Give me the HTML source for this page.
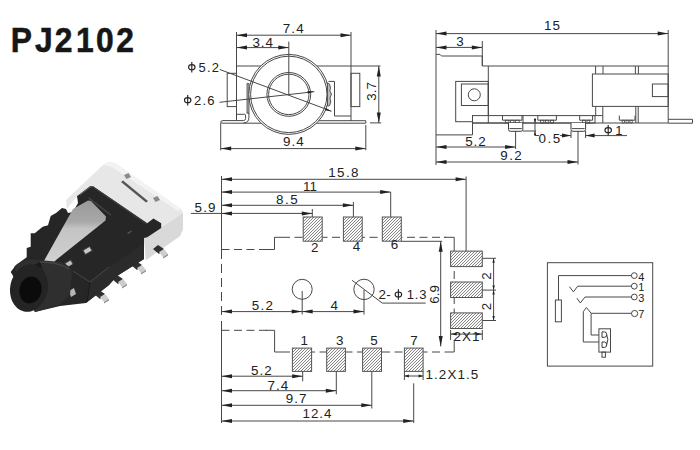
<!DOCTYPE html>
<html><head><meta charset="utf-8"><style>
html,body{margin:0;padding:0;background:#fff;}
svg{display:block;font-family:"Liberation Sans",sans-serif;}
</style></head><body>
<svg width="700" height="450" viewBox="0 0 700 450">
<defs>
<pattern id="hatch" patternUnits="userSpaceOnUse" width="3" height="3">
<rect width="3" height="3" fill="#fbfbfb"/><path d="M-1,1 L1,-1 M0,3 L3,0 M2,4 L4,2" stroke="#555" stroke-width="0.72"/>
</pattern>
<linearGradient id="strip" x1="0" y1="0" x2="0" y2="1">
<stop offset="0" stop-color="#999"/><stop offset="0.3" stop-color="#a8a8a8"/><stop offset="0.4" stop-color="#c4c4c4"/><stop offset="1" stop-color="#d4d4d4"/>
</linearGradient>
</defs>
<text transform="scale(0.93,1)" x="11.58 37.55 58.91 81.61 103.36 125.04" y="51.6" font-size="34.2" font-weight="bold" fill="#161616" stroke="#161616" stroke-width="0.55">PJ2102</text>
<line x1="236.5" y1="32" x2="236.5" y2="66.5" stroke="#484848" stroke-width="1" />
<line x1="351" y1="32" x2="351" y2="121" stroke="#484848" stroke-width="1" />
<line x1="236.5" y1="35.2" x2="351" y2="35.2" stroke="#484848" stroke-width="1" />
<polygon points="236.5,35.2 247,33.2 247,37.2" fill="#222"/>
<polygon points="351,35.2 340.5,37.2 340.5,33.2" fill="#222"/>
<text x="282.72" y="33" font-size="13.4" fill="#222" letter-spacing="1.13">7.4</text>
<line x1="288.8" y1="41.6" x2="288.8" y2="94.4" stroke="#484848" stroke-width="1" />
<line x1="236.5" y1="47.6" x2="288.8" y2="47.6" stroke="#484848" stroke-width="1" />
<polygon points="236.5,47.6 247,45.6 247,49.6" fill="#222"/>
<polygon points="288.8,47.6 278.3,49.6 278.3,45.6" fill="#222"/>
<text x="252.39" y="46.7" font-size="13.4" fill="#222" letter-spacing="0.99">3.4</text>
<line x1="236.5" y1="66" x2="380.5" y2="66" stroke="#484848" stroke-width="1" />
<line x1="236.5" y1="66" x2="236.5" y2="120.7" stroke="#484848" stroke-width="1" />
<rect x="227.2" y="73.3" width="9.3" height="33.3" fill="none" stroke="#484848" stroke-width="1" />
<rect x="351" y="73.3" width="8.8" height="33.3" fill="none" stroke="#484848" stroke-width="1" />
<rect x="247.1" y="83.7" width="1.8" height="29.4" fill="#e0e0e0" stroke="#484848" stroke-width="1" />
<path d="M236.7,114.3 H244.6 Q245.6,114.3 245.6,116 V118.5 Q245.6,120.4 243.6,120.6" fill="none" stroke="#484848" stroke-width="1"/>
<path d="M248.9,113.1 V117.5 Q248.9,122.9 243.5,122.9" fill="none" stroke="#484848" stroke-width="1"/>
<polyline points="328.5,81.4 334.5,81.4 334.5,116 351,116" fill="none" stroke="#484848" stroke-width="1" />
<path d="M243.6,120.6 H223 Q220.7,120.7 220.7,122 Q220.7,123.2 223,123.2 H365.8 V120.7 H318" fill="none" stroke="#484848" stroke-width="1"/>
<circle cx="288.8" cy="94.4" r="40" fill="#fff" stroke="#484848" stroke-width="1"/>
<circle cx="288.8" cy="94.4" r="38.2" fill="none" stroke="#484848" stroke-width="1"/>
<circle cx="288.8" cy="94.4" r="21.9" fill="none" stroke="#484848" stroke-width="1"/>
<circle cx="288.8" cy="94.4" r="20.2" fill="none" stroke="#484848" stroke-width="1"/>
<line x1="288.8" y1="54.4" x2="288.8" y2="94.4" stroke="#484848" stroke-width="1" />
<polygon points="327.5,82.7 329.5,84 330.5,88 329.8,91 331.5,94 330,98 330.8,102 329.5,105.8 327.5,106" fill="#bbb" stroke="#484848" stroke-width="0.9" />
<line x1="219.8" y1="69.5" x2="331.5" y2="111.2" stroke="#484848" stroke-width="1" />
<polygon points="331.5,111.4 324.96,110.33 325.87,107.9" fill="#222"/>
<line x1="219.5" y1="102.3" x2="314.3" y2="91.7" stroke="#484848" stroke-width="1" />
<polygon points="314.1,91.6 307.79,93.62 307.5,91.04" fill="#222"/>
<ellipse cx="191.8" cy="67.2" rx="3.25" ry="2.55" fill="none" stroke="#222" stroke-width="1.1"/>
<line x1="191.8" y1="62" x2="191.8" y2="72.5" stroke="#222" stroke-width="1.15"/>
<text x="198.48" y="71.6" font-size="13" fill="#222" letter-spacing="1.26">5.2</text>
<ellipse cx="187.7" cy="100.2" rx="3.25" ry="2.55" fill="none" stroke="#222" stroke-width="1.1"/>
<line x1="187.7" y1="95" x2="187.7" y2="105.5" stroke="#222" stroke-width="1.15"/>
<text x="193.95" y="104.6" font-size="13" fill="#222" letter-spacing="1.23">2.6</text>
<line x1="220.7" y1="123" x2="220.7" y2="150.3" stroke="#484848" stroke-width="1" />
<line x1="365.8" y1="125" x2="365.8" y2="150.3" stroke="#484848" stroke-width="1" />
<line x1="220.7" y1="148.6" x2="365.8" y2="148.6" stroke="#484848" stroke-width="1" />
<polygon points="220.7,148.6 231.2,146.6 231.2,150.6" fill="#222"/>
<polygon points="365.8,148.6 355.3,150.6 355.3,146.6" fill="#222"/>
<text x="282.97" y="145.7" font-size="13.4" fill="#222" letter-spacing="1">9.4</text>
<line x1="370" y1="122.9" x2="381.2" y2="122.9" stroke="#484848" stroke-width="1" />
<line x1="378.8" y1="66" x2="378.8" y2="122.9" stroke="#484848" stroke-width="1" />
<polygon points="378.8,66 380.8,76.5 376.8,76.5" fill="#222"/>
<polygon points="378.8,122.9 376.8,112.4 380.8,112.4" fill="#222"/>
<text x="0" y="0" font-size="13.4" fill="#222" letter-spacing="0.08" transform="translate(376.4,100.71) rotate(-90)">3.7</text>
<line x1="436" y1="30" x2="436" y2="165" stroke="#484848" stroke-width="1" />
<line x1="668.2" y1="30" x2="668.2" y2="123" stroke="#484848" stroke-width="1" />
<line x1="436" y1="33.6" x2="668.2" y2="33.6" stroke="#484848" stroke-width="1" />
<polygon points="436,33.6 446.5,31.6 446.5,35.6" fill="#222"/>
<polygon points="668.2,33.6 657.7,35.6 657.7,31.6" fill="#222"/>
<text x="543.98" y="29.8" font-size="13.4" fill="#222" letter-spacing="0.99">15</text>
<line x1="436" y1="47.4" x2="482.3" y2="47.4" stroke="#484848" stroke-width="1" />
<polygon points="436,47.4 446.5,45.4 446.5,49.4" fill="#222"/>
<polygon points="482.3,47.4 471.8,49.4 471.8,45.4" fill="#222"/>
<line x1="482.3" y1="41" x2="482.3" y2="66" stroke="#484848" stroke-width="1" />
<text x="456.29" y="46.4" font-size="13.4" fill="#222" letter-spacing="0">3</text>
<polyline points="436,54.4 440,54.4 441.5,56 482.3,56 482.3,66 668.2,66" fill="none" stroke="#484848" stroke-width="1" />
<rect x="455.7" y="81.4" width="32.6" height="40.3" fill="none" stroke="#484848" stroke-width="1" />
<rect x="461.4" y="84" width="26.9" height="21.5" fill="none" stroke="#484848" stroke-width="1" />
<circle cx="474.3" cy="94.8" r="6" fill="none" stroke="#484848" stroke-width="1"/>
<rect x="472.5" y="115.6" width="122.5" height="7.4" fill="#fff" stroke="#484848" stroke-width="1" />
<line x1="488.3" y1="66" x2="488.3" y2="123" stroke="#484848" stroke-width="1" />
<line x1="472.5" y1="123" x2="668.2" y2="123" stroke="#484848" stroke-width="1" />
<line x1="472.5" y1="115.6" x2="472.5" y2="134.9" stroke="#484848" stroke-width="1" />
<line x1="436" y1="134.9" x2="472.5" y2="134.9" stroke="#484848" stroke-width="1" />
<rect x="592.4" y="74" width="75.8" height="32.4" fill="none" stroke="#484848" stroke-width="1" />
<rect x="652.4" y="84" width="15.8" height="12.6" fill="none" stroke="#484848" stroke-width="1" />
<line x1="595.6" y1="66" x2="595.6" y2="74" stroke="#484848" stroke-width="1" />
<line x1="603" y1="66" x2="603" y2="74" stroke="#484848" stroke-width="1" />
<line x1="635.4" y1="66" x2="635.4" y2="74" stroke="#484848" stroke-width="1" />
<line x1="638.4" y1="66" x2="638.4" y2="74" stroke="#484848" stroke-width="1" />
<line x1="595.7" y1="106.4" x2="595.7" y2="115.6" stroke="#484848" stroke-width="1" />
<line x1="602.8" y1="106.4" x2="602.8" y2="123" stroke="#484848" stroke-width="1" />
<line x1="635.8" y1="106.4" x2="635.8" y2="123" stroke="#484848" stroke-width="1" />
<line x1="638.2" y1="106.4" x2="638.2" y2="123" stroke="#484848" stroke-width="1" />
<line x1="592.6" y1="115.6" x2="602.8" y2="115.6" stroke="#484848" stroke-width="1" />
<polyline points="668.2,119.3 692.5,119.3 692.5,123.2 668.2,123.2" fill="none" stroke="#484848" stroke-width="1" />
<polyline points="502.5,115.6 502.5,120.2 522,120.2 522,115.6" fill="none" stroke="#484848" stroke-width="1" />
<rect x="505.3" y="120.2" width="3.57" height="2.8" fill="none" stroke="#484848" stroke-width="0.8" />
<rect x="510.47" y="120.2" width="3.57" height="2.8" fill="none" stroke="#484848" stroke-width="0.8" />
<rect x="515.63" y="120.2" width="3.57" height="2.8" fill="none" stroke="#484848" stroke-width="0.8" />
<polyline points="537.8,115.6 537.8,120.2 556.4,120.2 556.4,115.6" fill="none" stroke="#484848" stroke-width="1" />
<rect x="540.6" y="120.2" width="3.27" height="2.8" fill="none" stroke="#484848" stroke-width="0.8" />
<rect x="545.47" y="120.2" width="3.27" height="2.8" fill="none" stroke="#484848" stroke-width="0.8" />
<rect x="550.33" y="120.2" width="3.27" height="2.8" fill="none" stroke="#484848" stroke-width="0.8" />
<polyline points="579.7,115.6 579.7,120.2 592.6,120.2 592.6,115.6" fill="none" stroke="#484848" stroke-width="1" />
<rect x="582.5" y="120.2" width="2.85" height="2.8" fill="none" stroke="#484848" stroke-width="0.8" />
<rect x="586.95" y="120.2" width="2.85" height="2.8" fill="none" stroke="#484848" stroke-width="0.8" />
<polyline points="619.3,115.6 619.3,120.2 635,120.2 635,115.6" fill="none" stroke="#484848" stroke-width="1" />
<rect x="622.1" y="120.2" width="2.3" height="2.8" fill="none" stroke="#484848" stroke-width="0.8" />
<rect x="626" y="120.2" width="2.3" height="2.8" fill="none" stroke="#484848" stroke-width="0.8" />
<rect x="629.9" y="120.2" width="2.3" height="2.8" fill="none" stroke="#484848" stroke-width="0.8" />
<line x1="523" y1="115.6" x2="523" y2="123" stroke="#484848" stroke-width="1" />
<path d="M508.5,123 V129.5 Q508.5,131.3 510.5,131.3 H520.8 Q522.8,131.3 522.8,129.5 V123" fill="#fff" stroke="#3a3a3a" stroke-width="1"/>
<line x1="509.5" y1="128.6" x2="521.8" y2="128.6" stroke="#484848" stroke-width="1" />
<path d="M571,123 V129.5 Q571,131.3 573,131.3 H583.6 Q585.6,131.3 585.6,129.5 V123" fill="#fff" stroke="#3a3a3a" stroke-width="1"/>
<line x1="572" y1="128.6" x2="584.6" y2="128.6" stroke="#484848" stroke-width="1" />
<line x1="515.6" y1="131" x2="515.6" y2="149" stroke="#484848" stroke-width="1" />
<line x1="436" y1="147" x2="515.6" y2="147" stroke="#484848" stroke-width="1" />
<polygon points="436,147 446.5,145 446.5,149" fill="#222"/>
<polygon points="515.6,147 505.1,149 505.1,145" fill="#222"/>
<text x="465.16" y="145.6" font-size="13.4" fill="#222" letter-spacing="0.95">5.2</text>
<line x1="578" y1="131" x2="578" y2="164.5" stroke="#484848" stroke-width="1" />
<line x1="436" y1="162" x2="578" y2="162" stroke="#484848" stroke-width="1" />
<polygon points="436,162 446.5,160 446.5,164" fill="#222"/>
<polygon points="578,162 567.5,164 567.5,160" fill="#222"/>
<text x="500.37" y="159.6" font-size="13.4" fill="#222" letter-spacing="1.34">9.2</text>
<line x1="523" y1="131" x2="536" y2="131" stroke="#484848" stroke-width="1" />
<line x1="535" y1="118" x2="535" y2="135.5" stroke="#484848" stroke-width="1" />
<polygon points="535,123 533.8,119 536.2,119" fill="#222"/>
<polygon points="535,131.3 536.2,135.3 533.8,135.3" fill="#222"/>
<line x1="535" y1="135.5" x2="539" y2="135.5" stroke="#484848" stroke-width="1" />
<text x="538.48" y="143" font-size="13.4" fill="#222" letter-spacing="1.54">0.5</text>
<line x1="560" y1="135.6" x2="571" y2="135.6" stroke="#484848" stroke-width="1" />
<polygon points="571,135.6 562,137.6 562,133.6" fill="#222"/>
<line x1="571" y1="131" x2="571" y2="138" stroke="#484848" stroke-width="1" />
<line x1="585.6" y1="131" x2="585.6" y2="138" stroke="#484848" stroke-width="1" />
<line x1="585.6" y1="135.6" x2="627" y2="135.6" stroke="#484848" stroke-width="1" />
<polygon points="585.6,135.6 594.6,133.6 594.6,137.6" fill="#222"/>
<ellipse cx="608.2" cy="130.2" rx="3.25" ry="2.55" fill="none" stroke="#222" stroke-width="1.1"/>
<line x1="608.2" y1="125" x2="608.2" y2="135.5" stroke="#222" stroke-width="1.15"/>
<text x="615.21" y="134.6" font-size="13" fill="#222" letter-spacing="0">1</text>
<polygon points="67.0,209.0 66.0,200.0 103.0,165.0 108.0,162.0 115.0,163.0 181.0,209.0 183.0,213.0 183.0,229.0 180.0,236.0 146.0,260.0 144.0,238.0 90.0,186.0 77.0,196.0" fill="#e7e7e7" />
<polygon points="144.0,238.0 161.0,228.0 183.0,213.0 183.0,229.0 180.0,236.0 146.0,260.0" fill="#d9d9d9" />
<polygon points="103.0,165.0 108.0,162.0 115.0,163.0 181.0,209.0 178.0,211.0 112.0,167.0" fill="#f3f3f3" />
<polygon points="121.0,182.0 123.0,180.5 148.0,201.0 146.0,202.5" fill="#555" />
<polygon points="124.0,175.0 128.5,173.0 131.0,177.0 126.5,179.0" fill="#8a8a8a" />
<polygon points="153.0,198.0 157.5,196.0 160.0,200.0 155.5,202.0" fill="#8a8a8a" />
<polygon points="153.0,249.0 158.0,245.0 164.0,249.0 159.0,254.0" fill="#303030" />
<polygon points="159.0,252.0 164.0,249.0 168.0,254.0 163.0,257.0" fill="#cdcdcd" />
<polygon points="163.0,257.0 168.0,254.0 168.0,255.5 163.0,258.5" fill="#8c8c8c" />
<polygon points="131.0,265.0 136.0,261.0 142.0,265.0 137.0,270.0" fill="#303030" />
<polygon points="137.0,268.0 142.0,265.0 146.0,270.0 141.0,273.0" fill="#cdcdcd" />
<polygon points="141.0,273.0 146.0,270.0 146.0,271.5 141.0,274.5" fill="#8c8c8c" />
<polygon points="112.0,279.0 117.0,275.0 123.0,279.0 118.0,284.0" fill="#303030" />
<polygon points="118.0,282.0 123.0,279.0 127.0,284.0 122.0,287.0" fill="#cdcdcd" />
<polygon points="122.0,287.0 127.0,284.0 127.0,285.5 122.0,288.5" fill="#8c8c8c" />
<polygon points="94.0,294.0 99.0,290.0 105.0,294.0 100.0,299.0" fill="#303030" />
<polygon points="100.0,297.0 105.0,294.0 109.0,299.0 104.0,302.0" fill="#cdcdcd" />
<polygon points="104.0,302.0 109.0,299.0 109.0,300.5 104.0,303.5" fill="#8c8c8c" />
<polygon points="26.7,257.3 26.7,248.0 30.7,246.7 30.7,233.3 34.7,233.3 42.7,226.7 48.0,225.3 50.7,216.0 56.0,213.0 62.0,208.0 66.0,209.0 68.0,213.0 73.0,212.0 78.0,203.0 77.0,196.0 79.0,194.7 90.4,185.9 93.0,186.2 147.2,223.2 153.4,218.5 161.2,223.2 161.2,227.9 147.2,237.2 144.0,238.0 144.0,259.0 117.0,276.0 109.0,285.0 86.0,303.0 60.0,306.0 35.0,312.0 10.7,272.0 16.0,265.0" fill="#262626" />
<polygon points="90.0,282.0 109.0,267.0 117.0,262.0 143.0,244.0 144.0,259.0 117.0,276.0 109.0,285.0 86.0,303.0" fill="#2b2b2b" />
<polyline points="73,271 90,282 109,267" fill="none" stroke="#484848" stroke-width="1"/>
<polyline points="90,282 87,302" fill="none" stroke="#1a1a1a" stroke-width="1"/>
<polygon points="79.0,194.7 90.4,185.9 93.0,186.2 92.5,187.5 90.8,187.3 80.0,195.5" fill="#555" />
<polygon points="88.1,198.3 89.1,197.3 111.4,214.4 110.4,215.4" fill="#444" />
<polygon points="127.0,233.3 131.0,230.5 132.0,231.5 128.0,234.3" fill="#555" />
<polygon points="93.0,186.2 147.2,223.2 146.5,224.5 92.5,187.5" fill="#3a3a3a" />
<polygon points="73,209 88,200.5 91,201 106,216.5 105.5,220.5 56,260 47,270 41,271 40,268" fill="url(#strip)"/>
<polygon points="82.0,250.0 90.0,245.5 93.0,251.0 85.0,255.5" fill="#3a3a3a" />
<polygon points="83.5,250.5 89.5,247.0 91.5,250.5 85.5,254.0" fill="#c8c8c8" />
<polygon points="64.0,263.0 71.0,259.0 74.0,264.0 67.0,268.0" fill="#3a3a3a" />
<polygon points="65.5,263.5 70.5,260.5 72.5,264.0 67.5,267.0" fill="#bdbdbd" />
<polygon points="42.0,274.0 47.0,271.0 49.0,275.0 44.0,278.0" fill="#a8a8a8" />
<polygon points="69.0,291.0 74.0,288.0 76.0,294.0 71.0,297.0" fill="#b5b5b5" />
<path d="M14,267 Q22,259 34,259.5 L60,262 Q70,265 72,271 L70,295 L59,305 L35,312 Z" fill="#2f2f2f"/>
<path d="M40,262 Q58,262 69,269" stroke="#444" stroke-width="1.5" fill="none"/>
<polygon points="34.0,265.0 40.0,262.0 43.0,270.0 37.0,274.0" fill="#1a1a1a" />
<polygon points="37.0,270.0 41.0,268.0 43.0,272.0 39.0,274.0" fill="#aaa" />
<ellipse cx="29" cy="288" rx="18.8" ry="24" transform="rotate(12 29 288)" fill="#242424"/>
<ellipse cx="30.5" cy="290" rx="11" ry="13.5" transform="rotate(12 30.5 290)" fill="#0b0b0b"/>
<line x1="221.5" y1="176" x2="221.5" y2="250" stroke="#484848" stroke-width="1" />
<line x1="221.5" y1="250" x2="221.5" y2="318" stroke="#484848" stroke-width="1" stroke-dasharray="9,5"/>
<line x1="221.5" y1="321" x2="221.5" y2="423" stroke="#484848" stroke-width="1" />
<line x1="466.1" y1="176.5" x2="466.1" y2="251.1" stroke="#484848" stroke-width="1" />
<line x1="221.5" y1="179.3" x2="466.1" y2="179.3" stroke="#484848" stroke-width="1" />
<polygon points="221.5,179.3 232,177.3 232,181.3" fill="#222"/>
<polygon points="466.1,179.3 455.6,181.3 455.6,177.3" fill="#222"/>
<text x="328.28" y="176.9" font-size="13.4" fill="#222" letter-spacing="1.38">15.8</text>
<line x1="221.5" y1="192.1" x2="390.7" y2="192.1" stroke="#484848" stroke-width="1" />
<polygon points="221.5,192.1 232,190.1 232,194.1" fill="#222"/>
<polygon points="390.7,192.1 380.2,194.1 380.2,190.1" fill="#222"/>
<text x="302.88" y="190.7" font-size="13.4" fill="#222" letter-spacing="0.28">11</text>
<line x1="221.5" y1="205.3" x2="353.4" y2="205.3" stroke="#484848" stroke-width="1" />
<polygon points="221.5,205.3 232,203.3 232,207.3" fill="#222"/>
<polygon points="353.4,205.3 342.9,207.3 342.9,203.3" fill="#222"/>
<text x="276.02" y="203.6" font-size="13.4" fill="#222" letter-spacing="1.56">8.5</text>
<line x1="190.9" y1="213.4" x2="312.3" y2="213.4" stroke="#484848" stroke-width="1" />
<polygon points="221.5,213.4 232,211.4 232,215.4" fill="#222"/>
<polygon points="312.3,213.4 301.8,215.4 301.8,211.4" fill="#222"/>
<text x="194.56" y="211.8" font-size="13.4" fill="#222" letter-spacing="1.18">5.9</text>
<line x1="312.3" y1="209" x2="312.3" y2="217" stroke="#484848" stroke-width="1" />
<line x1="353.4" y1="202" x2="353.4" y2="217" stroke="#484848" stroke-width="1" />
<line x1="390.7" y1="192.1" x2="390.7" y2="217" stroke="#484848" stroke-width="1" />
<line x1="221.5" y1="249.5" x2="270" y2="249.5" stroke="#484848" stroke-width="1" stroke-dasharray="8,4.5"/>
<polyline points="266,249.5 274.5,249.5 274.5,237.3 282,237.3" fill="none" stroke="#484848" stroke-width="1" />
<line x1="282" y1="237.3" x2="446" y2="237.3" stroke="#484848" stroke-width="1" stroke-dasharray="8,4.5"/>
<polyline points="444,237.3 454.2,237.3 454.2,246" fill="none" stroke="#484848" stroke-width="1" />
<line x1="454.2" y1="246" x2="454.2" y2="334" stroke="#484848" stroke-width="1" stroke-dasharray="8,4.5"/>
<line x1="221.5" y1="330.3" x2="268" y2="330.3" stroke="#484848" stroke-width="1" stroke-dasharray="8,4.5"/>
<polyline points="266,330.3 274.6,330.3 274.6,352 282,352" fill="none" stroke="#484848" stroke-width="1" />
<line x1="282" y1="352" x2="446" y2="352" stroke="#484848" stroke-width="1" stroke-dasharray="8,4.5"/>
<polyline points="446,352 454.2,352 454.2,340" fill="none" stroke="#484848" stroke-width="1" />
<rect x="303.2" y="217" width="19" height="24.2" fill="url(#hatch)" stroke="#555" stroke-width="1" />
<text x="310.98" y="251.5" font-size="13.4" fill="#222">2</text>
<rect x="343.4" y="217" width="18.8" height="24.2" fill="url(#hatch)" stroke="#555" stroke-width="1" />
<text x="352.72" y="250.8" font-size="13.4" fill="#222">4</text>
<rect x="382.3" y="217" width="19" height="24.2" fill="url(#hatch)" stroke="#555" stroke-width="1" />
<text x="390.73" y="249.3" font-size="13.4" fill="#222">6</text>
<circle cx="302.2" cy="289.3" r="10" fill="none" stroke="#484848" stroke-width="1"/>
<circle cx="364" cy="289.4" r="10.2" fill="none" stroke="#484848" stroke-width="1"/>
<line x1="302.2" y1="291" x2="302.2" y2="314.4" stroke="#484848" stroke-width="1" />
<line x1="364" y1="290" x2="364" y2="314.6" stroke="#484848" stroke-width="1" />
<line x1="221.5" y1="311.6" x2="302.2" y2="311.6" stroke="#484848" stroke-width="1" />
<polygon points="221.5,311.6 232,309.6 232,313.6" fill="#222"/>
<polygon points="302.2,311.6 291.7,313.6 291.7,309.6" fill="#222"/>
<text x="251.66" y="310" font-size="13.4" fill="#222" letter-spacing="1.3">5.2</text>
<line x1="302.2" y1="311.6" x2="364" y2="311.6" stroke="#484848" stroke-width="1" />
<polygon points="302.2,311.6 312.7,309.6 312.7,313.6" fill="#222"/>
<polygon points="364,311.6 353.5,313.6 353.5,309.6" fill="#222"/>
<text x="330.62" y="310" font-size="13.4" fill="#222">4</text>
<line x1="352.1" y1="280.3" x2="382.3" y2="303.1" stroke="#484848" stroke-width="1" />
<line x1="382.3" y1="303.1" x2="425.7" y2="303.1" stroke="#484848" stroke-width="1" />
<text x="378.43" y="298.9" font-size="13.4" fill="#222" letter-spacing="0.26">2-</text>
<ellipse cx="398.4" cy="294.5" rx="3.25" ry="2.55" fill="none" stroke="#222" stroke-width="1.1"/>
<line x1="398.4" y1="289.3" x2="398.4" y2="299.8" stroke="#222" stroke-width="1.15"/>
<text x="406.71" y="298.9" font-size="13" fill="#222" letter-spacing="0.9">1.3</text>
<line x1="401.3" y1="241.3" x2="442.2" y2="241.3" stroke="#484848" stroke-width="1" />
<line x1="440.7" y1="241.3" x2="440.7" y2="346.4" stroke="#484848" stroke-width="1" />
<polygon points="440.7,241.3 442.7,251.8 438.7,251.8" fill="#222"/>
<polygon points="440.7,346.4 438.7,335.9 442.7,335.9" fill="#222"/>
<text x="0" y="0" font-size="13.4" fill="#222" letter-spacing="0" transform="translate(438.5,303.68) rotate(-90)">6.9</text>
<rect x="292.4" y="348.1" width="19.2" height="23.3" fill="url(#hatch)" stroke="#555" stroke-width="1" />
<text x="300.4" y="345.1" font-size="13.4" fill="#222">1</text>
<rect x="326.7" y="348.1" width="18.7" height="23.3" fill="url(#hatch)" stroke="#555" stroke-width="1" />
<text x="336.02" y="345.1" font-size="13.4" fill="#222">3</text>
<rect x="362.6" y="348.1" width="18.9" height="23.3" fill="url(#hatch)" stroke="#555" stroke-width="1" />
<text x="370.29" y="345.1" font-size="13.4" fill="#222">5</text>
<rect x="404.4" y="348.1" width="18.7" height="23.3" fill="url(#hatch)" stroke="#555" stroke-width="1" />
<text x="410.27" y="345.1" font-size="13.4" fill="#222">7</text>
<line x1="302.7" y1="371.4" x2="302.7" y2="381.3" stroke="#484848" stroke-width="1" />
<line x1="336.3" y1="371.4" x2="336.3" y2="394.3" stroke="#484848" stroke-width="1" />
<line x1="371.8" y1="371.4" x2="371.8" y2="408.5" stroke="#484848" stroke-width="1" />
<line x1="413.7" y1="383.3" x2="413.7" y2="423" stroke="#484848" stroke-width="1" />
<line x1="221.5" y1="376.2" x2="302.7" y2="376.2" stroke="#484848" stroke-width="1" />
<polygon points="221.5,376.2 232,374.2 232,378.2" fill="#222"/>
<polygon points="302.7,376.2 292.2,378.2 292.2,374.2" fill="#222"/>
<text x="251.06" y="374.7" font-size="13.4" fill="#222" letter-spacing="1.05">5.2</text>
<line x1="221.5" y1="390.7" x2="336.3" y2="390.7" stroke="#484848" stroke-width="1" />
<polygon points="221.5,390.7 232,388.7 232,392.7" fill="#222"/>
<polygon points="336.3,390.7 325.8,392.7 325.8,388.7" fill="#222"/>
<text x="267.52" y="389.6" font-size="13.4" fill="#222" letter-spacing="0.98">7.4</text>
<line x1="221.5" y1="405.3" x2="371.8" y2="405.3" stroke="#484848" stroke-width="1" />
<polygon points="221.5,405.3 232,403.3 232,407.3" fill="#222"/>
<polygon points="371.8,405.3 361.3,407.3 361.3,403.3" fill="#222"/>
<text x="285.87" y="403.4" font-size="13.4" fill="#222" letter-spacing="0.99">9.7</text>
<line x1="221.5" y1="421" x2="413.7" y2="421" stroke="#484848" stroke-width="1" />
<polygon points="221.5,421 232,419 232,423" fill="#222"/>
<polygon points="413.7,421 403.2,423 403.2,419" fill="#222"/>
<text x="302.58" y="417.8" font-size="13.4" fill="#222" letter-spacing="0.91">12.4</text>
<line x1="404.4" y1="371.4" x2="404.4" y2="380" stroke="#484848" stroke-width="1" />
<line x1="423.1" y1="371.4" x2="423.1" y2="380" stroke="#484848" stroke-width="1" />
<line x1="404.4" y1="376" x2="423.1" y2="376" stroke="#484848" stroke-width="1" />
<polygon points="404.4,376 408.9,374.6 408.9,377.4" fill="#222"/>
<polygon points="423.1,376 418.6,377.4 418.6,374.6" fill="#222"/>
<text x="425.38" y="379" font-size="13.4" fill="#222" letter-spacing="1.13">1.2X1.5</text>
<rect x="450.6" y="251.1" width="31.7" height="15.5" fill="url(#hatch)" stroke="#555" stroke-width="1" />
<rect x="450.6" y="282" width="31.7" height="15.5" fill="url(#hatch)" stroke="#555" stroke-width="1" />
<rect x="450.6" y="312.9" width="31.7" height="15.6" fill="url(#hatch)" stroke="#555" stroke-width="1" />
<line x1="482.3" y1="258.3" x2="496" y2="258.3" stroke="#484848" stroke-width="1" />
<line x1="482.3" y1="290.1" x2="496" y2="290.1" stroke="#484848" stroke-width="1" />
<line x1="482.3" y1="320.5" x2="496" y2="320.5" stroke="#484848" stroke-width="1" />
<line x1="493.6" y1="258.3" x2="493.6" y2="290.1" stroke="#484848" stroke-width="1" />
<polygon points="493.6,258.3 494.8,262.8 492.4,262.8" fill="#222"/>
<polygon points="493.6,290.1 492.4,285.6 494.8,285.6" fill="#222"/>
<line x1="493.6" y1="290.1" x2="493.6" y2="320.5" stroke="#484848" stroke-width="1" />
<polygon points="493.6,290.1 494.8,294.6 492.4,294.6" fill="#222"/>
<polygon points="493.6,320.5 492.4,316 494.8,316" fill="#222"/>
<text x="0" y="0" font-size="13.4" fill="#222" letter-spacing="0" transform="translate(490.9,279.77) rotate(-90)">2</text>
<text x="0" y="0" font-size="13.4" fill="#222" letter-spacing="0" transform="translate(490.9,310.37) rotate(-90)">2</text>
<line x1="450.6" y1="330" x2="450.6" y2="340" stroke="#484848" stroke-width="1" />
<line x1="482.3" y1="330" x2="482.3" y2="340" stroke="#484848" stroke-width="1" />
<line x1="450.6" y1="334.1" x2="482.3" y2="334.1" stroke="#484848" stroke-width="1" />
<polygon points="450.6,334.1 456.6,332.7 456.6,335.5" fill="#222"/>
<polygon points="482.3,334.1 476.3,335.5 476.3,332.7" fill="#222"/>
<text x="453.53" y="340.7" font-size="13.4" fill="#222" letter-spacing="1">2X1</text>
<rect x="547.4" y="262.7" width="105.3" height="103.4" fill="none" stroke="#484848" stroke-width="1" />
<polyline points="558.5,300 558.5,275.6 631.4,275.6" fill="none" stroke="#484848" stroke-width="1" />
<circle cx="634.3" cy="275.6" r="2.9" fill="none" stroke="#484848" stroke-width="1"/>
<rect x="555.4" y="300" width="6" height="21.8" fill="none" stroke="#484848" stroke-width="1" />
<polyline points="569.5,286.7 573.4,291.9 577.7,286.2 631.4,286.2" fill="none" stroke="#484848" stroke-width="1" />
<circle cx="634.3" cy="286.2" r="2.9" fill="none" stroke="#484848" stroke-width="1"/>
<polyline points="576.9,298.2 580.3,303 585,297 631.4,297" fill="none" stroke="#484848" stroke-width="1" />
<circle cx="634.3" cy="297" r="2.9" fill="none" stroke="#484848" stroke-width="1"/>
<polyline points="598.9,335 591.1,335 591.1,313.3 631.5,313.3" fill="none" stroke="#484848" stroke-width="1" />
<circle cx="634.6" cy="313.5" r="3.1" fill="none" stroke="#484848" stroke-width="1"/>
<polyline points="598.9,342 583.3,342 583.3,311.7 586.4,307.5 591.1,313.2" fill="none" stroke="#484848" stroke-width="1" />
<rect x="598.9" y="328.8" width="11.6" height="23.3" fill="none" stroke="#484848" stroke-width="1" />
<path d="M602,331.9 H604.5 Q606.7,331.9 606.7,334.6 Q606.7,337.3 604.5,337.3 H602 Z M602,342 H604.5 Q606.7,342 606.7,344.7 Q606.7,347.4 604.5,347.4 H602 Z M606.7,334.6 Q609,339.5 606.7,344.7" fill="none" stroke="#3a3a3a" stroke-width="1"/>
<rect x="602" y="352.1" width="3.4" height="5.1" fill="none" stroke="#484848" stroke-width="1" />
<text x="638.3" y="280.7" font-size="11" text-anchor="start" fill="#222" font-weight="normal" letter-spacing="0" >4</text>
<text x="638.3" y="291.4" font-size="11" text-anchor="start" fill="#222" font-weight="normal" letter-spacing="0" >1</text>
<text x="638.3" y="301.7" font-size="11" text-anchor="start" fill="#222" font-weight="normal" letter-spacing="0" >3</text>
<text x="638.3" y="318.1" font-size="11" text-anchor="start" fill="#222" font-weight="normal" letter-spacing="0" >7</text>
</svg>
</body></html>
